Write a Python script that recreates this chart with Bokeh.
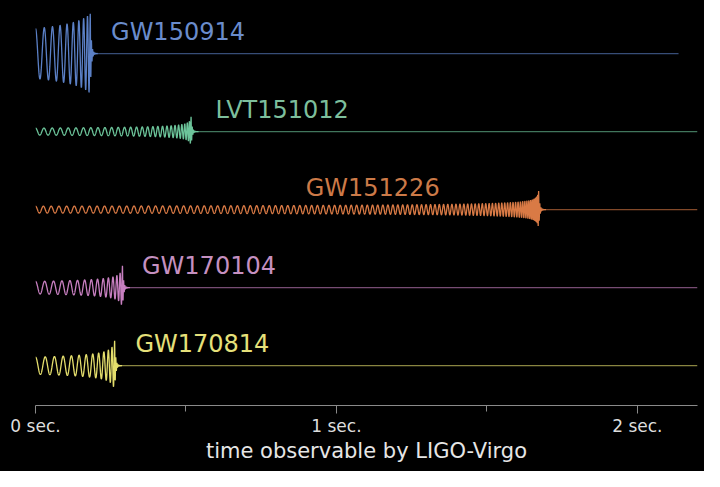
import numpy as np
from bokeh.plotting import figure
from bokeh.models import Range1d, FixedTicker
from bokeh.core.properties import value
from bokeh.embed import file_html
from bokeh.resources import INLINE

# ---- data ----
names = ["GW150914", "LVT151012", "GW151226", "GW170104", "GW170814"]
merger_t = [0.182, 0.517, 1.672, 0.289, 0.263]      # seconds from start of visible signal
n_cycles = [9, 28, 100, 14, 12]                      # visible cycles before merger
amp_start = [0.32, 0.045, 0.044, 0.08, 0.11]         # strain amplitude (row units) at start
amp_peak = [0.51, 0.19, 0.24, 0.28, 0.32]            # strain amplitude at merger
row_y = [4, 3, 2, 1, 0]
line_end = [2.137, 2.2, 2.2, 2.2, 2.2]
label_x = [0.251, 0.598, 0.898, 0.354, 0.332]
wave_colors = ["#5b80c6", "#6cc49a", "#d97a45", "#c77fc0", "#e4de6c"]
label_colors = ["#6a8ccc", "#7dbf9c", "#cc7a48", "#c590c0", "#e6e07a"]
tick_vals = [0, 1, 2]
tick_labels = ["0 sec.", "1 sec.", "2 sec."]
minor_vals = [0.5, 1.5]

FONT = "DejaVu Sans"

p = figure(width=704, height=471, output_backend="svg", toolbar_location=None,
           x_range=Range1d(0, 2.2), y_range=Range1d(-0.51, 4.68),
           y_axis_location=None,
           background_fill_color="black", border_fill_color="black",
           min_border_left=35, min_border_right=7, min_border_top=0, min_border_bottom=66)
p.styles = {"background-color": "black"}
p.outline_line_color = None
p.grid.visible = False


def chirp(tc, N, a0, a1, dt=0.0002):
    t = np.arange(0.0, tc, dt)
    tau = tc - t
    e2 = 0.004
    g = (tau + e2) ** 0.625 - e2 ** 0.625
    G = (tc + e2) ** 0.625 - e2 ** 0.625
    phase = 2 * np.pi * N * g / G
    r = a1 / a0
    e = tc / (r ** 4 - 1)
    A = a1 * ((tau + e) / e) ** -0.25
    h = A * np.cos(phase)
    t2 = tc + np.arange(0.0, 0.025, dt)
    h2 = a1 * np.exp(-(t2 - tc) / 0.0035) * np.cos(2 * np.pi * 260 * (t2 - tc))
    return np.concatenate([t, t2]), np.concatenate([h, h2])


for i in range(len(names)):
    p.line([merger_t[i], line_end[i]], [row_y[i], row_y[i]],
           line_color=wave_colors[i], line_alpha=0.6, line_width=1.2)
    t, h = chirp(merger_t[i], n_cycles[i], amp_start[i], amp_peak[i])
    p.line(t, h + row_y[i], line_color=wave_colors[i], line_width=1.3)
    p.text(x=[label_x[i]], y=[row_y[i] + 0.28], text=[names[i]],
           text_color=label_colors[i], text_font=value(FONT), text_font_size="24px",
           text_baseline="middle", text_align="left")

ax = p.xaxis[0]
ax.ticker = FixedTicker(ticks=tick_vals, minor_ticks=minor_vals)
ax.major_label_overrides = {v: s for v, s in zip(tick_vals, tick_labels)}
ax.axis_line_color = "#8a8a8a"
ax.major_tick_line_color = "#8a8a8a"
ax.minor_tick_line_color = "#8a8a8a"
ax.major_tick_out = 8
ax.major_tick_in = 0
ax.minor_tick_out = 6
ax.minor_tick_in = 0
ax.major_label_text_color = "#dddddd"
ax.major_label_text_font = FONT
ax.major_label_text_font_size = "17px"
ax.major_label_standoff = 2
ax.axis_label = "time observable by LIGO-Virgo"
ax.axis_label_text_color = "#e6e6e6"
ax.axis_label_text_font = FONT
ax.axis_label_text_font_size = "21px"
ax.axis_label_text_font_style = "normal"
ax.axis_label_standoff = 0

open("out.html", "w").write(file_html(p, INLINE))
